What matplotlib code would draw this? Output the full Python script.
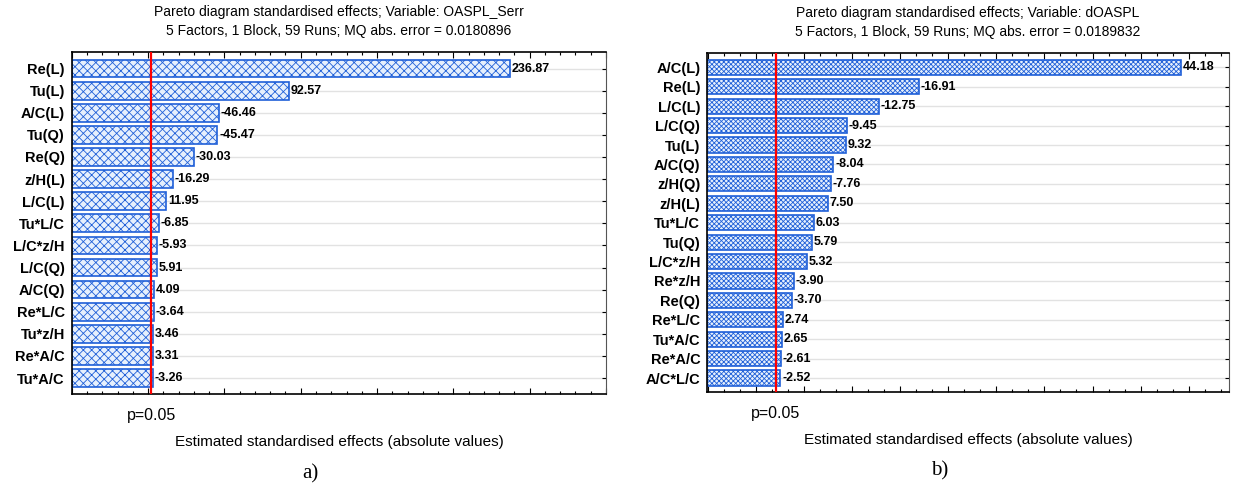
import numpy as np
import matplotlib
matplotlib.use('Agg')
import matplotlib.pyplot as plt
from matplotlib.ticker import MultipleLocator, NullFormatter

plt.rcParams['font.family'] = ['Liberation Sans', 'DejaVu Sans']
plt.rcParams['hatch.linewidth'] = 0.6

# chart a)
labels_a = ['Re(L)', 'Tu(L)', 'A/C(L)', 'Tu(Q)', 'Re(Q)', 'z/H(L)', 'L/C(L)',
            'Tu*L/C', 'L/C*z/H', 'L/C(Q)', 'A/C(Q)', 'Re*L/C', 'Tu*z/H',
            'Re*A/C', 'Tu*A/C']
effects_a = [236.87, 92.57, -46.46, -45.47, -30.03, -16.29, 11.95,
             -6.85, -5.93, 5.91, 4.09, -3.64, 3.46, 3.31, -3.26]
title_a = ('Pareto diagram standardised effects; Variable: OASPL_Serr\n'
           '5 Factors, 1 Block, 59 Runs; MQ abs. error = 0.0180896')

# chart b)
labels_b = ['A/C(L)', 'Re(L)', 'L/C(L)', 'L/C(Q)', 'Tu(L)', 'A/C(Q)', 'z/H(Q)',
            'z/H(L)', 'Tu*L/C', 'Tu(Q)', 'L/C*z/H', 'Re*z/H', 'Re(Q)',
            'Re*L/C', 'Tu*A/C', 'Re*A/C', 'A/C*L/C']
effects_b = [44.18, -16.91, -12.75, -9.45, 9.32, -8.04, -7.76, 7.50, 6.03,
             5.79, 5.32, -3.90, -3.70, 2.74, 2.65, -2.61, -2.52]
title_b = ('Pareto diagram standardised effects; Variable: dOASPL\n'
           '5 Factors, 1 Block, 59 Runs; MQ abs. error = 0.0189832')

p_crit = 2.01  # t value for p=0.05


def pareto(ax, labels, effects, xlim, title, hatch, major, minor, tag, bar_h):
    n = len(labels)
    y = np.arange(n)
    vals = np.abs(effects)
    x0 = xlim[0]
    for yy in y:
        ax.axhline(yy, color='#e2e2e2', lw=1, zorder=0)
    ax.barh(y, vals - x0, left=x0, height=bar_h, color='#e6f0fd',
            edgecolor='#2060d8', hatch=hatch, lw=1.2, zorder=2)
    for yy, v, e in zip(y, vals, effects):
        ax.text(v + (xlim[1] - xlim[0]) * 0.003, yy, '%.2f' % e, va='center',
                ha='left', fontsize=9, fontweight='bold', zorder=3)
    ax.axvline(p_crit, color='red', lw=1.6, zorder=4)
    ax.set_xlim(xlim)
    ax.set_ylim(n - 1 + 0.72, -0.75)
    ax.set_yticks(y)
    ax.set_yticklabels(labels, fontsize=10.5, fontweight='bold')
    ax.xaxis.set_major_locator(MultipleLocator(major))
    ax.xaxis.set_minor_locator(MultipleLocator(minor))
    ax.xaxis.set_major_formatter(NullFormatter())
    ax.tick_params(axis='x', which='major', direction='in', length=4,
                   top=True, bottom=True, width=0.8)
    ax.tick_params(axis='x', which='minor', direction='in', length=2.5,
                   top=True, bottom=True, width=0.8)
    ax.tick_params(axis='y', direction='in', length=3, left=True, right=True,
                   pad=5, width=0.8)
    for s in ['left', 'bottom', 'top']:
        ax.spines[s].set_linewidth(1.2)
    ax.spines['right'].set_color('#555555')
    ax.set_title(title, fontsize=10, linespacing=1.5, pad=12)
    ax.text(p_crit, -0.04, 'p=0.05', transform=ax.get_xaxis_transform(),
            ha='center', va='top', fontsize=11.5)
    ax.set_xlabel('Estimated standardised effects (absolute values)',
                  fontsize=11, labelpad=26)
    ax.text(0.446, -0.205, tag, transform=ax.transAxes, ha='center', va='top',
            fontsize=15, family='Liberation Serif')


fig = plt.figure(figsize=(12.33, 4.84), dpi=100)
ax1 = fig.add_axes([0.0582, 0.186, 0.4333, 0.7066])
ax2 = fig.add_axes([0.5736, 0.190, 0.4231, 0.701])

pareto(ax1, labels_a, effects_a, (-50, 300), title_a, 'xxxx', 50, 10,
       'a)', 0.8)
pareto(ax2, labels_b, effects_b, (-5.1, 49.2), title_b, 'xxxxxxx', 5, 5 / 3,
       'b)', 0.78)

fig.savefig('out.png', dpi=100)
